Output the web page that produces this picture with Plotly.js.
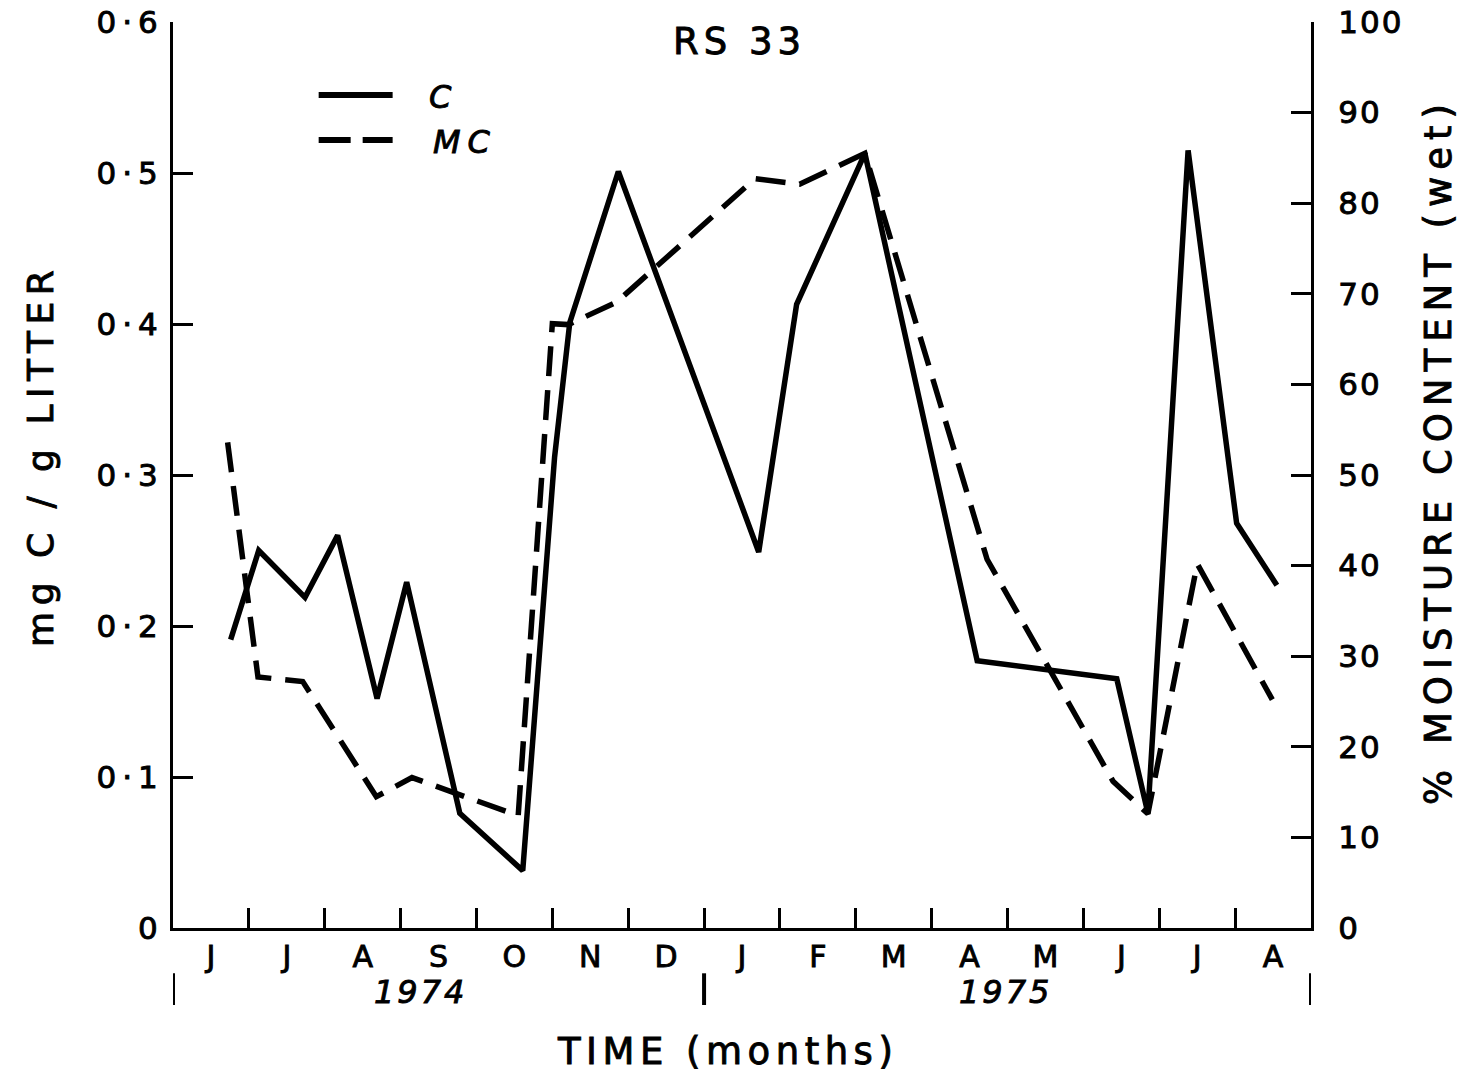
<!DOCTYPE html>
<html>
<head>
<meta charset="utf-8">
<script src="https://cdn.plot.ly/plotly-3.0.1.min.js"></script>
<style>
  body { margin: 0; background: #fff; }
  #chart { width: 1460px; height: 1072px; }
  /* heavier pen weight for the lettering */
  #chart .main-svg text { stroke: #000; stroke-width: 0.9px; }
</style>
</head>
<body>
<div id="chart"></div>
<script>
// Month initials, June 1974 to August 1975 (one label per month interval)
const monthLabels = ['J', 'J', 'A', 'S', 'O', 'N', 'D', 'J', 'F', 'M', 'A', 'M', 'J', 'J', 'A'];
const yearLabels = ['1974', '1975'];
const yearLabelMonth = [3.26, 10.97];
const yearBreakMonth = [0, 7, 15];

// C: mg C / g litter, time in months from 1 June 1974
const cMonth = [0.76, 1.13, 1.74, 2.17, 2.69, 3.08, 3.78, 4.61, 5.03, 5.23, 5.87, 7.72, 8.22, 9.12, 10.60, 12.44, 12.85, 13.38, 14.02, 14.55];
const cValue = [0.191, 0.250, 0.219, 0.260, 0.152, 0.229, 0.076, 0.038, 0.312, 0.401, 0.501, 0.249, 0.413, 0.513, 0.177, 0.165, 0.076, 0.515, 0.268, 0.227];

// MC: % moisture content (wet weight)
const mcMonth = [0.72, 1.12, 1.71, 2.68, 3.15, 4.55, 5.00, 5.21, 5.85, 7.67, 8.26, 9.12, 10.73, 12.39, 12.85, 13.50, 14.49];
const mcValue = [53.6, 27.7, 27.2, 14.5, 16.6, 12.4, 66.7, 66.6, 69.1, 82.7, 82.1, 85.5, 40.7, 16.2, 12.6, 40.2, 25.2];

const leftTickVals = [0, 0.1, 0.2, 0.3, 0.4, 0.5, 0.6];
const leftTickText = ['0', '0·1', '0·2', '0·3', '0·4', '0·5', '0·6'];
const rightTickVals = [0, 10, 20, 30, 40, 50, 60, 70, 80, 90, 100];

const FONT = 'DejaVu Sans, Liberation Sans, sans-serif';
const INK = '#000';

// widen the lettering the way a stencil set spaces its characters
const spaced = (t, px) => '<span style="letter-spacing:' + px + 'px">' + t + '</span>';

const traces = [
  {
    x: cMonth, y: cValue, name: 'C', type: 'scatter', mode: 'lines',
    line: { color: INK, width: 5.5 }, yaxis: 'y'
  },
  {
    x: mcMonth, y: mcValue, name: 'MC', type: 'scatter', mode: 'lines',
    line: { color: INK, width: 5.5, dash: '30px,14px' }, yaxis: 'y2'
  }
];

const monthCentres = monthLabels.map((_, i) => i + 0.5);
const monthBounds = monthLabels.slice(1).map((_, i) => i + 1);

const shapes = [];
// year separators below the month row
yearBreakMonth.forEach(m => shapes.push({
  type: 'line', xref: 'x', yref: 'paper', x0: m, x1: m, y0: -0.050, y1: -0.085,
  line: { color: INK, width: 4 }
}));
// key
shapes.push({ type: 'line', xref: 'paper', yref: 'paper', x0: 0.128, x1: 0.193, y0: 0.9194, y1: 0.9194,
  line: { color: INK, width: 6 } });
shapes.push({ type: 'line', xref: 'paper', yref: 'paper', x0: 0.128, x1: 0.193, y0: 0.8698, y1: 0.8698,
  line: { color: INK, width: 6, dash: '32px,12px' } });

const mid = { showarrow: false, xanchor: 'center', yanchor: 'middle' };
const annotations = [
  Object.assign({ text: spaced('RS 33', 5), xref: 'paper', yref: 'paper', x: 0.498, y: 0.979,
    font: { family: FONT, size: 37, color: INK } }, mid),
  Object.assign({ text: '<i>' + spaced('C', 4) + '</i>', xref: 'paper', yref: 'paper', x: 0.236, y: 0.917,
    font: { family: FONT, size: 32, color: INK } }, mid),
  Object.assign({ text: '<i>' + spaced('MC', 7) + '</i>', xref: 'paper', yref: 'paper', x: 0.257, y: 0.867,
    font: { family: FONT, size: 32, color: INK } }, mid),
  Object.assign({ text: spaced('TIME (months)', 5.5), xref: 'paper', yref: 'paper', x: 0.487, y: -0.1358,
    font: { family: FONT, size: 37, color: INK } }, mid),
  Object.assign({ text: spaced('mg C / g LITTER', 6.5), xref: 'paper', yref: 'paper', x: -0.117, y: 0.522, textangle: -90,
    font: { family: FONT, size: 36, color: INK } }, mid),
  Object.assign({ text: spaced('% MOISTURE CONTENT (wet)', 7), xref: 'paper', yref: 'paper', x: 1.112, y: 0.527, textangle: -90,
    font: { family: FONT, size: 37, color: INK } }, mid)
];
yearLabels.forEach((t, i) => annotations.push(Object.assign({
  text: '<i>' + spaced(t, 3) + '</i>', xref: 'x', yref: 'paper', x: yearLabelMonth[i], y: -0.0706,
  font: { family: FONT, size: 32, color: INK }
}, mid)));

const axisCommon = {
  showgrid: false, zeroline: false, showline: true, linecolor: INK, linewidth: 3,
  ticks: 'inside', ticklen: 20, tickwidth: 3, tickcolor: INK,
  tickfont: { family: FONT, size: 31, color: INK }, fixedrange: true
};

const layout = {
  width: 1460, height: 1072,
  margin: { l: 173, r: 149, t: 22, b: 144 },
  paper_bgcolor: '#fff', plot_bgcolor: '#fff',
  showlegend: false,
  font: { family: FONT, color: INK },
  xaxis: Object.assign({}, axisCommon, {
    range: [0, 15], tickmode: 'array', tickvals: monthCentres, ticktext: monthLabels,
    ticks: '', ticklabelstandoff: 0, tickfont: { family: FONT, size: 30, color: INK },
    minor: { tickmode: 'array', tickvals: monthBounds, ticks: 'inside', ticklen: 20, tickwidth: 3, tickcolor: INK, showgrid: false }
  }),
  yaxis: Object.assign({}, axisCommon, {
    range: [0, 0.6], tickmode: 'array', tickvals: leftTickVals,
    ticktext: leftTickText.map(t => spaced(t, 6)), ticklabelstandoff: 0
  }),
  yaxis2: Object.assign({}, axisCommon, {
    range: [0, 100], tickmode: 'array', tickvals: rightTickVals,
    ticktext: rightTickVals.map(v => spaced(String(v), 2)),
    overlaying: 'y', side: 'right', ticklabelstandoff: 18
  }),
  shapes: shapes,
  annotations: annotations
};

Plotly.newPlot('chart', traces, layout, { staticPlot: true, displayModeBar: false });
</script>
</body>
</html>
